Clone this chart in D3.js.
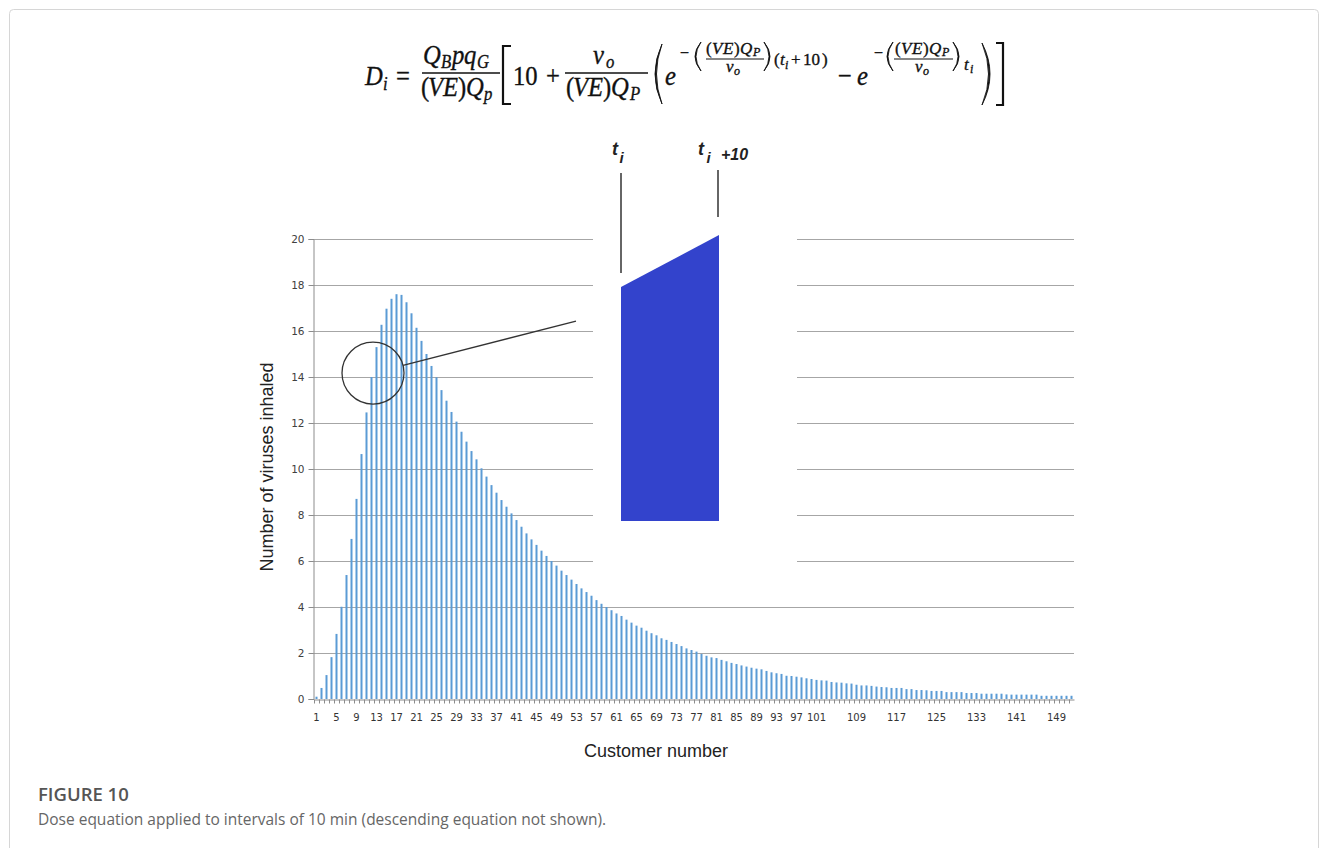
<!DOCTYPE html>
<html>
<head>
<meta charset="utf-8">
<script src="https://cdn.jsdelivr.net/npm/d3@7"></script>
<style>
  html, body { margin: 0; padding: 0; background: #fff; }
  svg { display: block; }
</style>
</head>
<body>
<svg id="chart" width="1328" height="848"></svg>
<script>
// ---------------- DATA ----------------
const customers = d3.range(1, 153); // customer numbers 1..152
const viruses = [
  0.10, 0.48, 1.04, 1.82, 2.83, 4.01, 5.39, 6.96, 8.70, 10.65,
  12.46, 14.00, 15.30, 16.27, 16.97, 17.40, 17.60, 17.57, 17.25, 16.77,
  16.14, 15.57, 15.00, 14.48, 13.99, 13.43, 12.97, 12.48, 12.06, 11.62,
  11.19, 10.78, 10.42, 10.03, 9.67, 9.30, 8.97, 8.65, 8.36, 8.07,
  7.78, 7.49, 7.20, 6.94, 6.70, 6.45, 6.22, 6.00, 5.80, 5.58,
  5.39, 5.19, 5.00, 4.81, 4.65, 4.49, 4.30, 4.14, 4.00, 3.86,
  3.72, 3.61, 3.45, 3.32, 3.19, 3.10, 2.97, 2.86, 2.77, 2.64,
  2.57, 2.48, 2.39, 2.30, 2.20, 2.13, 2.06, 1.96, 1.88, 1.81,
  1.78, 1.70, 1.64, 1.57, 1.52, 1.46, 1.41, 1.36, 1.32, 1.29,
  1.22, 1.16, 1.12, 1.09, 1.01, 1.00, 0.97, 0.94, 0.90, 0.87,
  0.83, 0.81, 0.80, 0.74, 0.72, 0.71, 0.68, 0.67, 0.62, 0.59,
  0.59, 0.57, 0.54, 0.52, 0.51, 0.48, 0.48, 0.48, 0.43, 0.43,
  0.39, 0.39, 0.38, 0.35, 0.35, 0.35, 0.30, 0.30, 0.30, 0.30,
  0.26, 0.26, 0.26, 0.23, 0.23, 0.23, 0.23, 0.23, 0.20, 0.19,
  0.19, 0.19, 0.19, 0.19, 0.19, 0.14, 0.14, 0.14, 0.14, 0.14,
  0.14, 0.14
];
const xTickLabels = [1,5,9,13,17,21,25,29,33,37,41,45,49,53,57,61,65,69,73,77,81,85,89,93,97,101,109,117,125,133,141,149];
const yTicks = [0,2,4,6,8,10,12,14,16,18,20];
const yLabel = "Number of viruses inhaled";
const xLabel = "Customer number";
const captionTitle = "FIGURE 10";
const captionText = "Dose equation applied to intervals of 10 min (descending equation not shown).";

// annotation geometry in data units (customer number, viruses)
const insetPoly = [[61.9, 7.74], [61.9, 17.91], [81.5, 20.17], [81.5, 7.74]];
const insetMask = { c0: 56.3, c1: 97.1, v0: 4.74, v1: 20.7 };
const tiLine = { c: 61.9, v0: 18.52, v1: 22.87 };
const ti10Line = { c: 81.3, v0: 20.96, v1: 23.0 };
const zoomCircle = { c: 12.3, v: 14.17 };
const zoomTarget = { c: 52.9, v: 16.43 };

// ---------------- LAYOUT ----------------
const svg = d3.select("#chart");
const plot = { left: 314, right: 1074, top: 239, bottom: 699 };

const x = d3.scaleBand().domain(customers).range([plot.left, plot.right]).padding(0);
const bw = x.bandwidth();
const xc = d3.scaleLinear().domain([1, 152]).range([x(1) + bw / 2, x(152) + bw / 2]);
const y = d3.scaleLinear().domain([0, 20]).range([plot.bottom, plot.top]);

// frame
svg.append("rect").attr("x", 9.5).attr("y", 9.5).attr("width", 1309).attr("height", 880)
  .attr("rx", 4).attr("fill", "none").attr("stroke", "#d6d6d6");

// gridlines
svg.append("g").selectAll("line").data(yTicks.filter(d => d > 0)).join("line")
  .attr("x1", plot.left - 1).attr("x2", plot.right)
  .attr("y1", d => Math.round(y(d)) + 0.5).attr("y2", d => Math.round(y(d)) + 0.5)
  .attr("stroke", "#a6a6a6").attr("stroke-width", 1);

// white mask of the inset
svg.append("rect")
  .attr("x", xc(insetMask.c0)).attr("y", y(insetMask.v1))
  .attr("width", xc(insetMask.c1) - xc(insetMask.c0))
  .attr("height", y(insetMask.v0) - y(insetMask.v1))
  .attr("fill", "#fff");

// bars
svg.append("g").selectAll("rect").data(customers).join("rect")
  .attr("x", d => x(d) + bw / 2 - 1)
  .attr("width", 2)
  .attr("y", (d, i) => y(viruses[i]))
  .attr("height", (d, i) => y(0) - y(viruses[i]))
  .attr("fill", "#5b9bd5");

// y axis
const yAxis = d3.axisLeft(y).tickValues(yTicks).tickSize(5).tickPadding(4).tickFormat(d3.format("d"));
const gy = svg.append("g").attr("transform", `translate(${plot.left - 0.5},0)`).call(yAxis);
gy.select(".domain").attr("stroke", "#8c8c8c");
gy.selectAll(".tick line").attr("stroke", "#8c8c8c");
gy.selectAll(".tick text").attr("font-family", "DejaVu Sans").attr("font-size", 10.5).attr("fill", "#404040");

// x axis
const xAxis = d3.axisBottom(x).tickValues(xTickLabels).tickSize(0).tickPadding(14).tickFormat(d3.format("d"));
const gx = svg.append("g").attr("transform", `translate(0,${plot.bottom + 0.5})`).call(xAxis);
gx.select(".domain").attr("stroke", "#8c8c8c");
gx.selectAll(".tick text").attr("font-family", "DejaVu Sans").attr("font-size", 10).attr("fill", "#333");
svg.append("g").selectAll("line").data(customers).join("line")
  .attr("x1", d => x(d) + 0.5).attr("x2", d => x(d) + 0.5)
  .attr("y1", plot.bottom + 0.5).attr("y2", plot.bottom + 4.5)
  .attr("stroke", "#8c8c8c");

// axis titles
svg.append("text").attr("transform", `translate(273,467) rotate(-90)`)
  .attr("text-anchor", "middle").attr("font-family", "Liberation Sans, Arial")
  .attr("font-size", 18).attr("fill", "#222").text(yLabel);
svg.append("text").attr("x", 656).attr("y", 757).attr("text-anchor", "middle")
  .attr("font-family", "Liberation Sans, Arial").attr("font-size", 18).attr("fill", "#222").text(xLabel);

// inset polygon and lines
svg.append("path")
  .attr("d", d3.line().x(d => xc(d[0])).y(d => y(d[1]))(insetPoly) + "Z")
  .attr("fill", "#3343cc");
[tiLine, ti10Line].forEach(l => {
  svg.append("line").attr("x1", xc(l.c)).attr("x2", xc(l.c))
    .attr("y1", y(l.v0)).attr("y2", y(l.v1))
    .attr("stroke", "#333").attr("stroke-width", 1.5);
});
function sans(xp, yp, s, size) {
  svg.append("text").attr("x", xp).attr("y", yp).attr("font-family", "Liberation Sans, Arial")
    .attr("font-size", size).attr("font-style", "italic").attr("font-weight", "bold")
    .attr("fill", "#222").text(s);
}
sans(xc(tiLine.c) - 9, 155, "t", 18);
sans(xc(tiLine.c) - 1.5, 163, "i", 15);
sans(xc(ti10Line.c) - 20, 155, "t", 18);
sans(xc(ti10Line.c) - 11.5, 163, "i", 15);
sans(xc(ti10Line.c) + 3, 160, "+10", 16);

// zoom circle and pointer
const cx = xc(zoomCircle.c), cy = y(zoomCircle.v), r = 31;
const tx = xc(zoomTarget.c), ty = y(zoomTarget.v);
const ang = Math.atan2(ty - cy, tx - cx);
svg.append("circle").attr("cx", cx).attr("cy", cy).attr("r", r)
  .attr("fill", "none").attr("stroke", "#333").attr("stroke-width", 1.3);
svg.append("line").attr("x1", cx + r * Math.cos(ang)).attr("y1", cy + r * Math.sin(ang))
  .attr("x2", tx).attr("y2", ty).attr("stroke", "#333").attr("stroke-width", 1.3);

// ---------------- EQUATION ----------------
const eq = svg.append("g").attr("fill", "#111");
function t(xp, yp, s, size, it, sx) {
  eq.append("text").attr("transform", `translate(${xp},${yp}) scale(${sx || 1},1)`)
    .attr("font-family", "Liberation Serif, Times New Roman, serif")
    .attr("font-size", size).attr("font-style", it ? "italic" : "normal")
    .attr("stroke", "#111").attr("stroke-width", 0.35).text(s);
}
function bar(x1, x2, yp, w) {
  eq.append("line").attr("x1", x1).attr("x2", x2).attr("y1", yp).attr("y2", yp)
    .attr("stroke", "#111").attr("stroke-width", w || 1.4);
}
function paren(x1, x2, y1, y2, left, th) {
  const xo = left ? x2 : x1, xi = left ? x1 : x2, ym = (y1 + y2) / 2;
  const k = left ? -4 : 4, d = (left ? 1 : -1) * (th || 2.4);
  eq.append("path").attr("d",
    `M${xo},${y1} Q${xi + k},${ym} ${xo},${y2} Q${xi + k + d},${ym} ${xo},${y1} Z`)
    .attr("fill", "#111").attr("stroke", "#111").attr("stroke-width", 0.9);
}
function bracket(x1, x2, y1, y2, left) {
  const xv = left ? x1 : x2, xh = left ? x2 : x1;
  eq.append("path").attr("d", `M${xh},${y1} H${xv} V${y2} H${xh}`)
    .attr("fill", "none").attr("stroke", "#111").attr("stroke-width", 2.2);
}
const F = 28, S = 19, C = 0.88;    // main size, subscript size, horizontal compression
const E = 17, ES = 12;             // exponent sizes
const BL = 85, NB = 64, DB = 96, FB = 73;
t(365, BL, "D", F, true, C); t(383, BL + 5, "i", S, true, C);
t(396, BL, "=", F, false, C);
// fraction 1
t(423, NB, "Q", F, true, C); t(441, NB + 4, "B", S, true, C); t(452, NB, "p", F, true, C);
t(464, NB, "q", F, true, C); t(477, NB + 4, "G", S, true, C);
bar(422, 500, FB);
t(421, DB, "(", F, false, C); t(428, DB, "V", F, true, C); t(443, DB, "E", F, true, C);
t(458, DB, ")", F, false, C); t(466, DB, "Q", F, true, C); t(484, DB + 4, "p", S, true, C);
bracket(503, 511, 46, 104, true);
t(513, BL, "10", F, false, C);
t(546, BL, "+", F, false, C);
// fraction 2
t(593, NB, "v", F, true, C); t(606, NB + 4, "o", S, true, C);
bar(565, 648, FB);
t(566, DB, "(", F, false, C); t(573, DB, "V", F, true, C); t(588, DB, "E", F, true, C);
t(603, DB, ")", F, false, C); t(611, DB, "Q", F, true, C); t(630, DB + 4, "P", S, true, C);
paren(652, 662, 44, 104, true, 3);
t(665, BL, "e", F, true, C);
// exponent 1
t(680, 58, "\u2212", 16, false);
paren(693, 701, 42, 71, true, 2);
t(706, 53.5, "(", E, false); t(712, 53.5, "V", E, true); t(723, 53.5, "E", E, true); t(734, 53.5, ")", E, false);
t(740, 53.5, "Q", E, true); t(753, 56, "P", ES, true);
bar(706, 764, 59, 1.1);
t(726, 72, "v", E, true); t(734, 74.5, "o", ES, true);
paren(764, 772, 42, 71, false, 2);
t(774, 65, "(", E, false); t(780, 65, "t", E, true); t(785, 68.5, "i", ES, true);
t(791, 65, "+", E, false); t(803, 65, "10", E, false); t(822, 65, ")", E, false);
t(838, BL, "\u2212", F, false, C);
t(857, BL, "e", F, true, C);
// exponent 2
t(874, 58, "\u2212", 16, false);
paren(885, 893, 42, 71, true, 2);
t(895, 53.5, "(", E, false); t(901, 53.5, "V", E, true); t(912, 53.5, "E", E, true); t(923, 53.5, ")", E, false);
t(929, 53.5, "Q", E, true); t(942, 56, "P", ES, true);
bar(894, 953, 59, 1.1);
t(915, 72, "v", E, true); t(923, 74.5, "o", ES, true);
paren(953, 961, 42, 71, false, 2);
t(964, 69.5, "t", E, true); t(970, 73, "i", ES, true);
paren(982, 994, 43, 105, false, 3);
bracket(996, 1003, 43, 105, false);

// ---------------- CAPTION ----------------
svg.append("text").attr("x", 38).attr("y", 801).attr("font-family", "Open Sans, Noto Sans, sans-serif")
  .attr("font-size", 18.5).attr("font-weight", 600).attr("fill", "#555").text(captionTitle);
svg.append("text").attr("x", 38).attr("y", 825).attr("font-family", "Open Sans, Noto Sans, sans-serif")
  .attr("font-size", 15.5).attr("fill", "#666").text(captionText);
</script>
</body>
</html>
